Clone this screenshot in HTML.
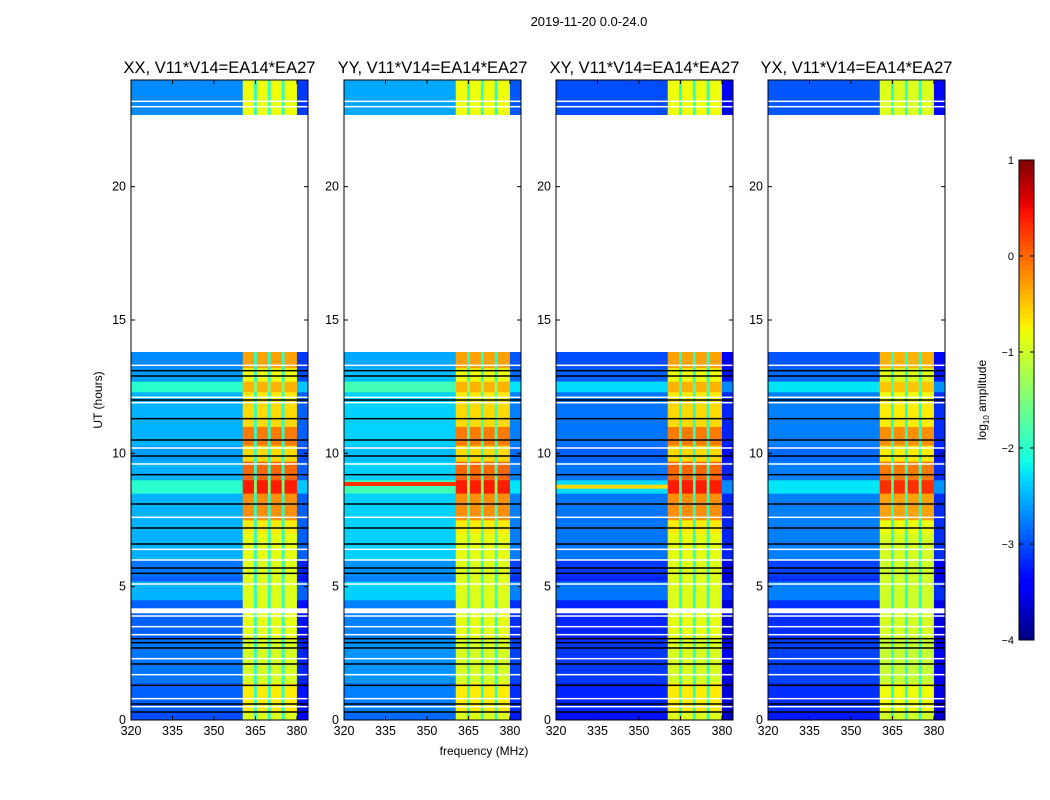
<!DOCTYPE html>
<html><head><meta charset="utf-8"><style>
body{margin:0;background:#fff;}
svg{display:block;font-family:"Liberation Sans",sans-serif;}
</style></head><body>
<svg id="fig" width="1050" height="800" viewBox="0 0 1050 800">
<text x="589" y="26" font-size="13" text-anchor="middle">2019-11-20 0.0-24.0</text>
<text x="484" y="755" font-size="12" text-anchor="middle">frequency (MHz)</text>
<text transform="translate(102,400) rotate(-90)" font-size="12" text-anchor="middle">UT (hours)</text>
<g id="panels"></g>
<g id="cbar"></g>
<text transform="translate(986,400) rotate(-90)" font-size="12" text-anchor="middle">log<tspan font-size="8" dy="3">10</tspan><tspan dy="-3"> amplitude</tspan></text>
</svg>
<script>
// ---- data ----
const panelTitles = ["XX, V11*V14=EA14*EA27","YY, V11*V14=EA14*EA27","XY, V11*V14=EA14*EA27","YX, V11*V14=EA14*EA27"];
const panelBgShift = [-0.2, -0.05, -0.5, -0.45];
const panelBandShift = [0, 0, 0, -0.1];
// time segments (hours) with background level and band level (log10 amplitude)
const segStart = [0,0.3,1.4,3.0,4.2,4.5,5.2,5.4,6.0,7.0,7.5,8.5,9.0,9.7,10.3,11.0,12.0,12.3,12.7,13.2,22.7];
const segEnd   = [0.3,1.4,3.0,4.0,4.5,5.2,5.4,6.0,7.0,7.5,8.5,9.0,9.7,10.3,11.0,12.0,12.3,12.7,13.2,13.8,24.0];
const segBg    = [-2.8,-2.7,-2.6,-2.7,-2.7,-2.3,-2.7,-2.6,-2.3,-2.3,-2.3,-1.8,-2.3,-2.4,-2.3,-2.3,-2.3,-1.8,-2.4,-2.5,-2.5];
const segBand  = [-0.9,-0.7,-0.95,-0.85,-0.9,-0.9,-0.9,-0.9,-0.85,-0.7,-0.2,0.4,0.0,-0.6,-0.1,-0.6,-0.7,-0.4,-0.8,-0.3,-0.8];
// frequency channel groups (MHz) and their kind
const chanStart = [320,360.4,364.5,365.5,369.5,370.5,374.5,375.5,380];
const chanEnd   = [360.4,364.5,365.5,369.5,370.5,374.5,375.5,380,384];
const chanKind  = ["bg","band","gap","band","gap","band","gap","band","edge"];
// flagged/thin lines (hours)
const blackLines = [0.3,0.6,1.3,2.1,2.7,2.9,3.05,5.5,5.7,6.6,7.2,8.1,9.2,9.9,10.5,11.3,12.0,12.9,13.1];
const whiteLines = [0.5,0.8,1.7,2.3,3.2,3.5,3.9,5.1,6.0,6.4,7.6,9.6,10.2,11.9,12.1,13.3,23.0,23.2];
// YY / XY strong horizontal RFI line
const rfiHour = [0, 8.85, 8.75, 0];
const rfiLevel = [null, 0.3, -0.6, null];
const xTicks = [320,335,350,365,380];
const yTicks = [0,5,10,15,20];
const cbTicks = [1,0,-1,-2,-3,-4];

// ---- helpers ----
const NS="http://www.w3.org/2000/svg";
const panelLeft=[131,344,556,768], PW=177, PT=80, PB=720;
const fmin=320,fmax=384,tmin=0,tmax=24,vmin=-4,vmax=1;
function jet(v){
  let t=(v-vmin)/(vmax-vmin); t=Math.max(0,Math.min(1,t));
  function pw(pts){for(let i=1;i<pts.length;i++){if(t<=pts[i][0]){const[a,ya]=pts[i-1],[b,yb]=pts[i];return ya+(yb-ya)*(t-a)/(b-a);}}return pts[pts.length-1][1];}
  const r=pw([[0,0],[0.35,0],[0.66,1],[0.89,1],[1,0.5]]);
  const g=pw([[0,0],[0.125,0],[0.375,1],[0.64,1],[0.91,0],[1,0]]);
  const b=pw([[0,0.5],[0.11,1],[0.34,1],[0.65,0],[1,0]]);
  return `rgb(${Math.round(r*255)},${Math.round(g*255)},${Math.round(b*255)})`;
}
function mk(tag,attrs,parent){const e=document.createElementNS(NS,tag);for(const k in attrs)e.setAttribute(k,attrs[k]);parent.appendChild(e);return e;}
const panels=document.getElementById('panels');
for(let p=0;p<4;p++){
  const L=panelLeft[p];
  const xs=f=>L+(f-fmin)/(fmax-fmin)*PW;
  const ys=h=>PB-(h-tmin)/(tmax-tmin)*(PB-PT);
  const g=mk('g',{},panels);
  
  
  for(let s=0;s<segStart.length;s++){
    const bg=segBg[s]+panelBgShift[p], band=segBand[s]+panelBandShift[p];
    for(let c=0;c<chanStart.length;c++){
      let v; const k=chanKind[c];
      if(k==="bg")v=bg; else if(k==="band")v=band; else if(k==="gap")v=Math.max(bg+0.5,-2.0); else v=bg-0.4;
      const x0=xs(chanStart[c]),x1=xs(chanEnd[c]),y0=ys(segEnd[s]),y1=ys(segStart[s]);
      const r=mk('rect',{x:x0.toFixed(2),y:y0.toFixed(2),width:(x1-x0+0.3).toFixed(2),height:(y1-y0+0.3).toFixed(2),fill:jet(v)},g);
      
      
    }
  }
  if(rfiLevel[p]!==null){
    const y=ys(rfiHour[p]);
    const r=mk('rect',{x:L,y:(y-2).toFixed(2),width:xs(360.4)-L,height:4,fill:jet(rfiLevel[p])},g);
    
    
  }
  for(const h of blackLines){
    const l=mk('rect',{x:L,y:(ys(h)-0.75).toFixed(2),width:PW,height:1.5,fill:'#000'},g);
    
    
  }
  for(const h of whiteLines){
    const l=mk('rect',{x:L,y:(ys(h)-0.75).toFixed(2),width:PW,height:1.5,fill:'#fff'},g);
    
    
  }
  const fr=mk('rect',{x:L,y:PT,width:PW,height:PB-PT,fill:'none',stroke:'#000','stroke-width':1},g);
  
  
  const tt=mk('text',{x:L+PW/2,y:73,'font-size':16.5,'text-anchor':'middle'},g);
  tt.textContent=panelTitles[p];
  
  
  for(const f of xTicks){
    const x=xs(f);
    mk('line',{x1:x,x2:x,y1:PB,y2:PB-4,stroke:'#000'},g);
    mk('line',{x1:x,x2:x,y1:PT,y2:PT+4,stroke:'#000'},g);
    const t=mk('text',{x:x,y:PB+15,'font-size':12.5,'text-anchor':'middle'},g);
    t.textContent=f;
    
    
  }
  for(const h of yTicks){
    const y=ys(h);
    mk('line',{x1:L,x2:L+4,y1:y,y2:y,stroke:'#000'},g);
    mk('line',{x1:L+PW,x2:L+PW-4,y1:y,y2:y,stroke:'#000'},g);
    const t=mk('text',{x:L-5,y:y+4,'font-size':12.5,'text-anchor':'end'},g);
    t.textContent=h;
    
    
  }
}
// colorbar
const cb=document.getElementById('cbar');
const CX=1019,CW=15,CT=160,CB=640;
const cy=v=>CB-(v-vmin)/(vmax-vmin)*(CB-CT);
for(let i=0;i<100;i++){
  const v0=vmin+(vmax-vmin)*i/100, v1=vmin+(vmax-vmin)*(i+1)/100;
  const r=mk('rect',{x:CX,y:cy(v1).toFixed(2),width:CW,height:(cy(v0)-cy(v1)+0.4).toFixed(2),fill:jet((v0+v1)/2)},cb);
  
  
}
mk('rect',{x:CX,y:CT,width:CW,height:CB-CT,fill:'none',stroke:'#000'},cb);
for(const v of cbTicks){
  const y=cy(v);
  mk('line',{x1:CX,x2:CX+4,y1:y,y2:y,stroke:'#000'},cb);
  mk('line',{x1:CX+CW,x2:CX+CW-4,y1:y,y2:y,stroke:'#000'},cb);
  const t=mk('text',{x:CX-5,y:y+4,'font-size':11,'text-anchor':'end'},cb);
  t.textContent=v<0?'\u2212'+(-v):String(v);
  
  
}
</script>
</body></html>
